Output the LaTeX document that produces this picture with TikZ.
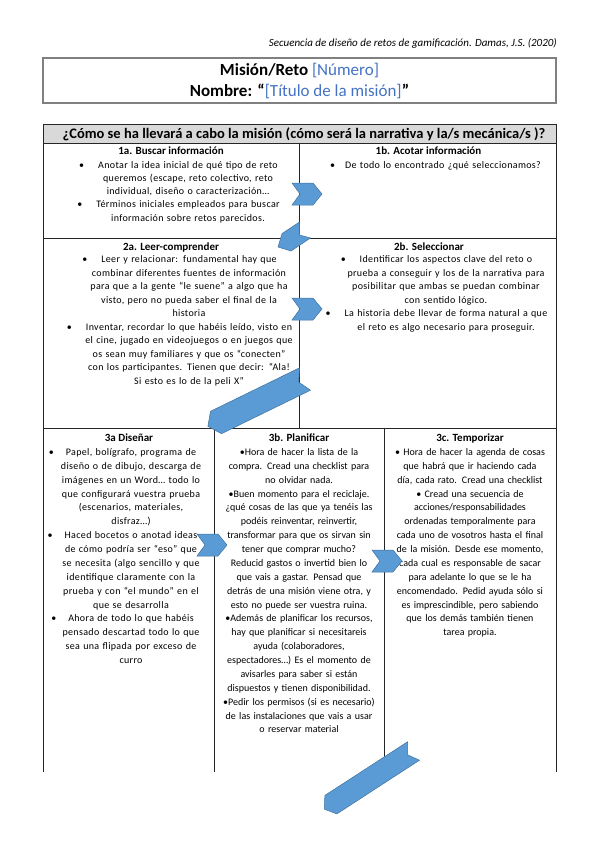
\documentclass[tikz,border=0pt]{standalone}
\usepackage{fontspec}
\setmainfont{Carlito}
\definecolor{wordblue}{HTML}{4472C4}
\definecolor{chevfill}{HTML}{5B9BD5}
\definecolor{chevline}{HTML}{41719C}
\definecolor{headgray}{HTML}{D9D9D9}
\definecolor{boxgray}{HTML}{808080}
\newcommand{\hb}[1]{\leavevmode\llap{\textbullet\hspace{#1}}}
\newcommand{\wide}{\addfontfeature{LetterSpace=3.5}}
\begin{document}
\begin{tikzpicture}[x=1pt,y=-1pt,
  tline/.style={draw=black!85, line width=0.6pt},
  chev/.style={fill=chevfill, draw=chevline, line width=0.5pt, line join=miter},
  celltitle/.style={font=\bfseries\fontsize{11}{13}\selectfont, anchor=base, inner sep=0pt},
  bodytext/.style={anchor=base, inner sep=0pt, align=center},
  titlebox/.style={draw=boxgray, line width=1.2pt, minimum width=513pt, minimum height=45pt, inner sep=0pt}
]
\useasboundingbox (0,0) rectangle (599,848);

% running header
\node[anchor=base east, inner sep=0pt, font=\itshape\fontsize{11}{13}\selectfont] (runhead) at (557,46.5)
  {Secuencia de diseño de retos de gamificación. Damas, J.S. (2020)};

% title box
\node[titlebox] (titlebox) at (299.5,80.5) {};
\node[anchor=base, inner sep=0pt, font=\bfseries\fontsize{17}{19}\selectfont] (title1) at (299.5,76)
  {Misión/Reto \textcolor{wordblue}{\mdseries [Número]}};
\node[anchor=base, inner sep=0pt, font=\bfseries\fontsize{17}{19}\selectfont] (title2) at (299.5,97)
  {Nombre: “\textcolor{wordblue}{\mdseries [Título de la misión]}”};

% table
\fill[headgray] (43,124) rectangle (556,143);
\draw[tline] (43,124) -- (556,124);
\draw[tline] (43,143) -- (556,143);
\draw[tline] (43,238) -- (556,238);
\draw[tline] (43,428) -- (556,428);
\draw[tline] (43,124) -- (43,772);
\draw[tline] (556,124) -- (556,772);
\draw[tline] (299,143) -- (299,428);
\draw[tline] (214,428) -- (214,772);
\draw[tline] (384,428) -- (384,772);

\node[anchor=base, inner sep=0pt, font=\bfseries\fontsize{14.5}{16}\selectfont] (headrow) at (304,138.5)
  {¿Cómo se ha llevará a cabo la misión (cómo será la narrativa y la/s mecánica/s )?};

% row 1
\node[celltitle] (t1a) at (171,154) {1a. Buscar información};
\node[celltitle] (t1b) at (428.5,154) {1b. Acotar información};
\node[bodytext, text width=215pt, font=\fontsize{10}{13.3}\selectfont\wide] (b1a) at (188,168)
  {\hb{14pt}Anotar la idea inicial de qué tipo de reto\\
   queremos (escape, reto colectivo, reto\\
   individual, diseño o caracterización…\\
   \hb{14pt}Términos iniciales empleados para buscar\\
   información sobre retos parecidos.};
\node[bodytext, text width=230pt, font=\fontsize{10}{13.3}\selectfont\wide] (b1b) at (443,168)
  {\hb{10pt}De todo lo encontrado ¿qué seleccionamos?};

% row 2
\node[celltitle] (t2a) at (171,250) {2a. Leer-comprender};
\node[celltitle] (t2b) at (429,250) {2b. Seleccionar};
\node[bodytext, text width=230pt, font=\fontsize{10}{13.55}\selectfont\wide] (b2a) at (189,262.5)
  {\hb{14pt}Leer y relacionar: fundamental hay que\\
   combinar diferentes fuentes de información\\
   para que a la gente “le suene” a algo que ha\\
   visto, pero no pueda saber el final de la\\
   historia\\
   \hb{14pt}Inventar, recordar lo que habéis leído, visto en\\
   el cine, jugado en videojuegos o en juegos que\\
   os sean muy familiares y que os “conecten”\\
   con los participantes. Tienen que decir: “Ala!\\
   Si esto es lo de la peli X”};
\node[bodytext, text width=230pt, font=\fontsize{10}{13.55}\selectfont\wide] (b2b) at (446,262.5)
  {\hb{14pt}Identificar los aspectos clave del reto o\\
   prueba a conseguir y los de la narrativa para\\
   posibilitar que ambas se puedan combinar\\
   con sentido lógico.\\
   \hb{14pt}La historia debe llevar de forma natural a que\\
   el reto es algo necesario para proseguir.};

% row 3
\node[celltitle] (t3a) at (129,441) {3a Diseñar};
\node[celltitle] (t3b) at (299,441) {3b. Planificar};
\node[celltitle] (t3c) at (470,441) {3c. Temporizar};
\node[bodytext, text width=165pt, font=\fontsize{10}{13.87}\selectfont\wide] (b3a) at (131,455.5)
  {\hb{12pt}Papel, bolígrafo, programa de\\
   diseño o de dibujo, descarga de\\
   imágenes en un Word… todo lo\\
   que configurará vuestra prueba\\
   (escenarios, materiales,\\
   disfraz…)\\
   \hb{12pt}Haced bocetos o anotad ideas\\
   de cómo podría ser “eso” que\\
   se necesita (algo sencillo y que\\
   identifique claramente con la\\
   prueba y con “el mundo” en el\\
   que se desarrolla\\
   \hb{12pt}Ahora de todo lo que habéis\\
   pensado descartad todo lo que\\
   sea una flipada por exceso de\\
   curro};
\node[bodytext, text width=168pt, font=\fontsize{10}{13.87}\selectfont] (b3b) at (299,455.5)
  {\textbullet Hora de hacer la lista de la\\
   compra. Cread una checklist para\\
   no olvidar nada.\\
   \textbullet Buen momento para el reciclaje.\\
   ¿qué cosas de las que ya tenéis las\\
   podéis reinventar, reinvertir,\\
   transformar para que os sirvan sin\\
   tener que comprar mucho?\\
   Reducid gastos o invertid bien lo\\
   que vais a gastar. Pensad que\\
   detrás de una misión viene otra, y\\
   esto no puede ser vuestra ruina.\\
   \textbullet Además de planificar los recursos,\\
   hay que planificar si necesitareis\\
   ayuda (colaboradores,\\
   espectadores…) Es el momento de\\
   avisarles para saber si están\\
   dispuestos y tienen disponibilidad.\\
   \textbullet Pedir los permisos (si es necesario)\\
   de las instalaciones que vais a usar\\
   o reservar material};
\node[bodytext, text width=170pt, font=\fontsize{10}{13.87}\selectfont] (b3c) at (470,455.5)
  {\textbullet{} Hora de hacer la agenda de cosas\\
   que habrá que ir haciendo cada\\
   día, cada rato. Cread una checklist\\
   \textbullet{} Cread una secuencia de\\
   acciones/responsabilidades\\
   ordenadas temporalmente para\\
   cada uno de vosotros hasta el final\\
   de la misión. Desde ese momento,\\
   cada cual es responsable de sacar\\
   para adelante lo que se le ha\\
   encomendado. Pedid ayuda sólo si\\
   es imprescindible, pero sabiendo\\
   que los demás también tienen\\
   tarea propia.};

% chevron arrows
\path[chev] (292,183) -- (313,183) -- (322,194) -- (313,205) -- (292,205) -- (300,194) -- cycle;
\path[chev] (292,298) -- (313,298) -- (322,309) -- (313,320) -- (292,320) -- (300,309) -- cycle;
\path[chev] (197,534) -- (218,534) -- (227,545) -- (218,556) -- (197,556) -- (205,545) -- cycle;
\path[chev] (372,550) -- (393,550) -- (402,561) -- (393,572) -- (372,572) -- (380,561) -- cycle;
% between row 1 and row 2
\path[chev] (299.5,222) -- (282,233.6) -- (278,247) -- (291,251) -- (310.5,238) -- (299.5,235) -- cycle;
% long arrow into row 3
\path[chev] (299.5,367.8) -- (210.5,411.3) -- (207.9,426.3) -- (221.5,433.7) -- (310.5,390.2) -- (298.7,382.1) -- cycle;
% bottom arrow
\path[chev] (407.5,741.8) -- (324.85,795.4) -- (324.3,809.1) -- (336.85,813.9) -- (419.5,760.2) -- (407.6,754.8) -- cycle;
\end{tikzpicture}
\end{document}
